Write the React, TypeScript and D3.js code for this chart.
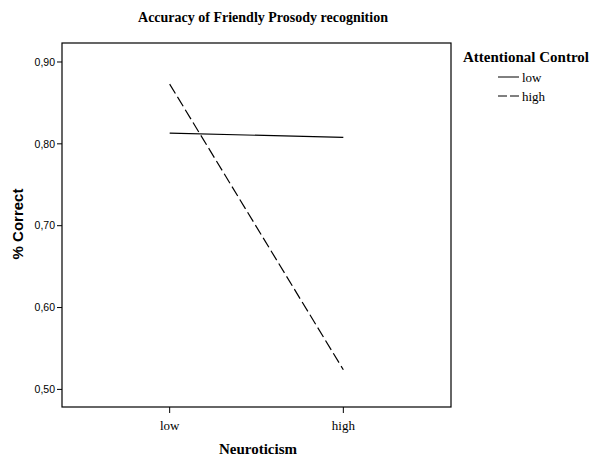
import * as d3 from "d3";

const categories = ["low", "high"];
const yTicks = [0.5, 0.6, 0.7, 0.8, 0.9];
const seriesNames = ["low", "high"];
const lowValues = [0.813, 0.808];
const highValues = [0.873, 0.524];
const seriesValues = [lowValues, highValues];
const dashes = [null, "11,4"];
const legendDashes = [null, "9,3"];

const W = 590;
const H = 457;
const margin = { top: 43, right: 139, bottom: 50, left: 62 };

const serif = "'Liberation Serif', 'Times New Roman', serif";
const sans = "'Liberation Sans', Arial, sans-serif";

export default function App() {
  const innerW = W - margin.left - margin.right;
  const innerH = H - margin.top - margin.bottom;

  const x = d3
    .scalePoint<string>()
    .domain(categories)
    .range([0, innerW])
    .padding(0.62);
  const y = d3.scaleLinear().domain([0.4785, 0.9232]).range([innerH, 0]);

  const line = d3
    .line<number>()
    .x((_, i) => x(categories[i]) as number)
    .y((d) => y(d));

  const fmt = (v: number) => v.toFixed(2).replace(".", ",");

  return (
    <svg
      width={W}
      height={H}
      style={{ position: "absolute", left: 0, top: 0, background: "#fff" }}
    >
      <text
        x={263}
        y={22}
        textAnchor="middle"
        fontFamily={serif}
        fontWeight="bold"
        fontSize={14}
      >
        Accuracy of Friendly Prosody recognition
      </text>

      <g transform={`translate(${margin.left},${margin.top})`}>
        <rect
          x={0}
          y={0}
          width={innerW}
          height={innerH}
          fill="none"
          stroke="#000"
          strokeWidth={1.2}
        />
        {yTicks.map((t) => (
          <g key={t} transform={`translate(0,${y(t)})`}>
            <line x1={-5} x2={0} stroke="#000" />
            <text
              x={-7}
              dy="0.35em"
              textAnchor="end"
              fontFamily={sans}
              fontSize={10.5}
            >
              {fmt(t)}
            </text>
          </g>
        ))}
        {categories.map((c) => (
          <g key={c} transform={`translate(${x(c)},${innerH})`}>
            <line y1={0} y2={6} stroke="#000" />
            <text
              y={23}
              textAnchor="middle"
              fontFamily={serif}
              fontSize={13}
            >
              {c}
            </text>
          </g>
        ))}
        {seriesValues.map((vals, i) => (
          <path
            key={seriesNames[i]}
            d={line(vals) as string}
            fill="none"
            stroke="#000"
            strokeWidth={1.2}
            strokeDasharray={dashes[i] ?? undefined}
          />
        ))}
      </g>

      <text
        x={258}
        y={454}
        textAnchor="middle"
        fontFamily={serif}
        fontWeight="bold"
        fontSize={15}
      >
        Neuroticism
      </text>
      <text
        transform={`translate(23,${224}) rotate(-90)`}
        textAnchor="middle"
        fontFamily={sans}
        fontWeight="bold"
        fontSize={15}
      >
        % Correct
      </text>

      <g>
        <text
          x={463}
          y={62}
          fontFamily={serif}
          fontWeight="bold"
          fontSize={15}
        >
          Attentional Control
        </text>
        {seriesNames.map((s, i) => (
          <g key={s} transform={`translate(0,${77 + i * 19})`}>
            <line
              x1={498}
              x2={519}
              stroke="#000"
              strokeDasharray={legendDashes[i] ?? undefined}
            />
            <text x={522} dy="0.35em" fontFamily={serif} fontSize={13}>
              {s}
            </text>
          </g>
        ))}
      </g>
    </svg>
  );
}
